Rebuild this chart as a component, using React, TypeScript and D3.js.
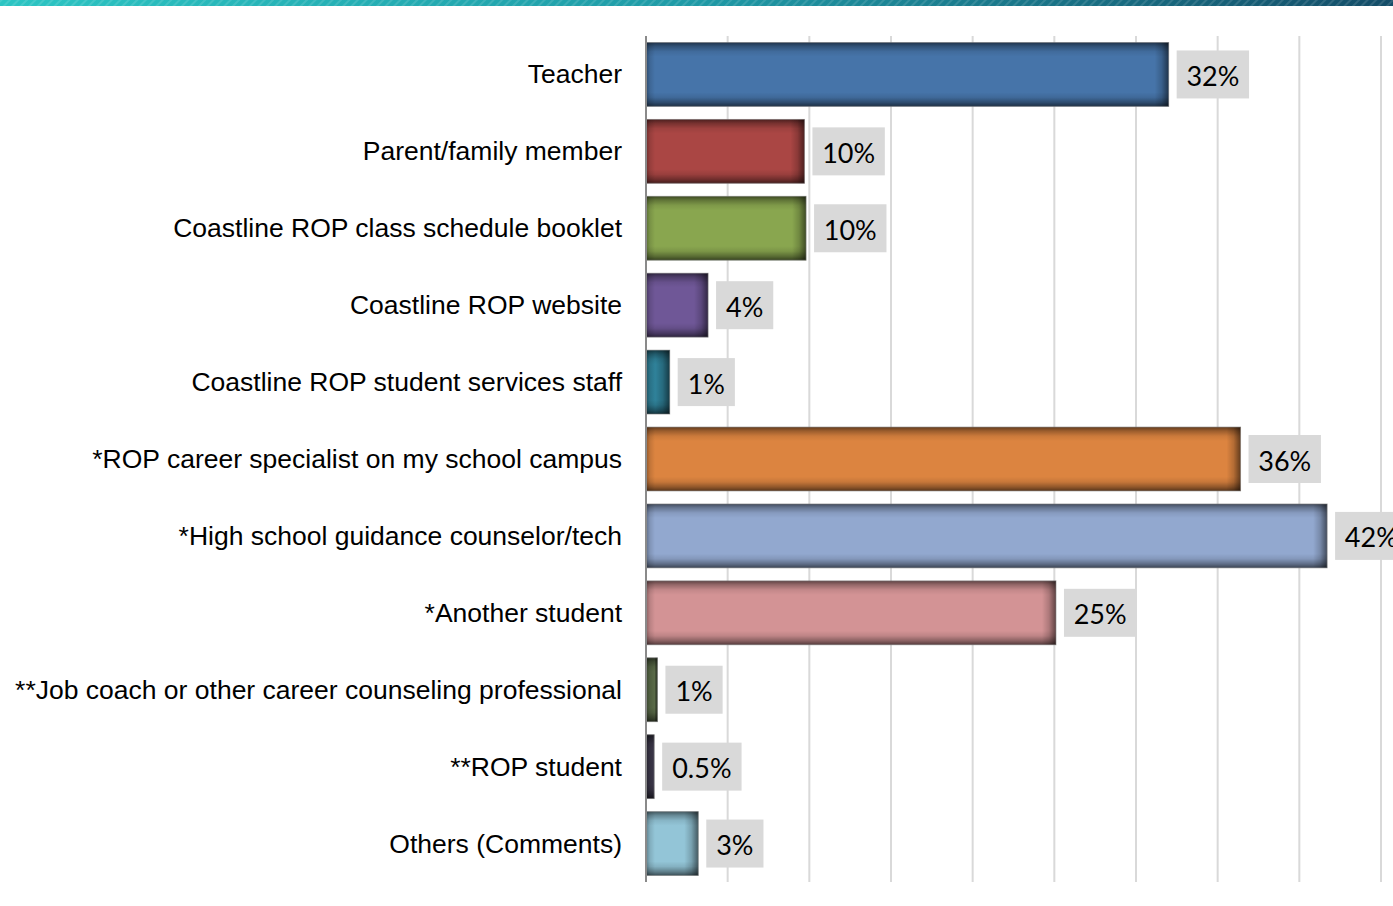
import React from "react";
import * as d3 from "d3";

const categories = [
  "Teacher",
  "Parent/family member",
  "Coastline ROP class schedule booklet",
  "Coastline ROP website",
  "Coastline ROP student services staff",
  "*ROP career specialist on my school campus",
  "*High school guidance counselor/tech",
  "*Another student",
  "**Job coach or other career counseling professional",
  "**ROP student",
  "Others (Comments)",
];
const values = [32.0, 9.7, 9.8, 3.8, 1.45, 36.4, 41.7, 25.1, 0.7, 0.5, 3.2];
const valueLabels = ["32%", "10%", "10%", "4%", "1%", "36%", "42%", "25%", "1%", "0.5%", "3%"];
const colors = [
  "#4674a9", "#aa4644", "#89a64f", "#6f5797", "#2f8199", "#dc8440",
  "#92a8cf", "#d39395", "#5a6b48", "#3b3749", "#93c5d7",
];
const xTicks = [0, 5, 10, 15, 20, 25, 30, 35, 40, 45];

const W = 1393;
const H = 906;

function labelWidth(s: string) {
  let w = 0;
  for (const ch of s) {
    if (ch === "%") w += 23;
    else if (ch === ".") w += 7;
    else w += 15.2;
  }
  return w;
}

export default function App() {
  const x = d3.scaleLinear().domain([0, 45]).range([646, 1381]);
  const y = d3.scaleBand<string>().domain(categories).range([36, 882]).paddingInner(0.17).paddingOuter(0.085);
  const bw = y.bandwidth();

  return (
    <svg width={W} height={H} style={{ position: "absolute", left: 0, top: 0, background: "#fff" }}>
      <defs>
        <linearGradient id="band" x1="0" x2="1" y1="0" y2="0">
          <stop offset="0" stopColor="#2cc5c3" />
          <stop offset="0.5" stopColor="#1f9aa6" />
          <stop offset="1" stopColor="#144d68" />
        </linearGradient>
        <pattern id="stripes" width="6" height="6" patternUnits="userSpaceOnUse" patternTransform="rotate(45)">
          <rect width="2" height="6" fill="#ffffff" opacity="0.12" />
        </pattern>
        <linearGradient id="vshade" x1="0" x2="0" y1="0" y2="1">
          <stop offset="0" stopColor="#000" stopOpacity={0.55} />
          <stop offset="0.06" stopColor="#000" stopOpacity={0.3} />
          <stop offset="0.14" stopColor="#000" stopOpacity={0.08} />
          <stop offset="0.22" stopColor="#000" stopOpacity={0} />
          <stop offset="0.78" stopColor="#000" stopOpacity={0} />
          <stop offset="0.86" stopColor="#000" stopOpacity={0.1} />
          <stop offset="0.94" stopColor="#000" stopOpacity={0.35} />
          <stop offset="1" stopColor="#000" stopOpacity={0.6} />
        </linearGradient>
        {categories.map((c, i) => {
          const w = Math.max(1, x(values[i]) - x(0));
          const f = (px: number) => Math.min(1, px / w);
          return (
            <linearGradient key={"h" + i} id={"h" + i} x1="0" x2="1" y1="0" y2="0">
              <stop offset={0} stopColor="#000" stopOpacity={0.35} />
              <stop offset={f(4)} stopColor="#000" stopOpacity={0.12} />
              <stop offset={f(9)} stopColor="#000" stopOpacity={0} />
              <stop offset={Math.max(f(9), 1 - f(14))} stopColor="#000" stopOpacity={0} />
              <stop offset={Math.max(f(9), 1 - f(7))} stopColor="#000" stopOpacity={0.18} />
              <stop offset={1} stopColor="#000" stopOpacity={0.55} />
            </linearGradient>
          );
        })}
      </defs>

      <rect x={0} y={0} width={W} height={6} fill="url(#band)" />
      <rect x={0} y={0} width={W} height={6} fill="url(#stripes)" />

      {xTicks.filter((t) => t > 0).map((t) => (
        <line key={t} x1={x(t)} x2={x(t)} y1={36} y2={882} stroke="#d9d9d9" strokeWidth={2} />
      ))}

      {categories.map((c, i) => {
        const by = y(c)!;
        const x1 = x(values[i]);
        const w = x1 - x(0);
        return (
          <g key={c}>
            <rect x={x(0)} y={by} width={w} height={bw} fill={colors[i]} />
            <rect x={x(0)} y={by} width={w} height={bw} fill="url(#vshade)" />
            <rect x={x(0)} y={by} width={w} height={bw} fill={`url(#h${i})`} />
            <rect
              x={x(0)}
              y={by}
              width={w}
              height={bw}
              fill="none"
              stroke="#7a7a7a"
              strokeOpacity={0.6}
              strokeWidth={1}
            />
          </g>
        );
      })}

      <line x1={x(0)} x2={x(0)} y1={36} y2={882} stroke="#8a8a8a" strokeWidth={2} />

      {categories.map((c, i) => {
        const cy = y(c)! + bw / 2;
        const x1 = x(values[i]);
        const label = valueLabels[i];
        const boxW = labelWidth(label) + 19;
        return (
          <g key={"l" + c}>
            <text
              x={622}
              y={cy}
              textAnchor="end"
              dominantBaseline="central"
              fontFamily="'Liberation Sans', Arial, sans-serif"
              fontSize={26.5}
              fill="#000"
            >
              {c}
            </text>
            <rect x={x1 + 8} y={cy - 24} width={boxW} height={48} fill="#d9d9d9" />
            <text
              x={x1 + 8 + boxW / 2}
              y={cy + 1}
              textAnchor="middle"
              dominantBaseline="central"
              fontFamily="Lato, 'Open Sans', sans-serif"
              fontSize={27}
              fill="#000"
            >
              {label}
            </text>
          </g>
        );
      })}
    </svg>
  );
}
